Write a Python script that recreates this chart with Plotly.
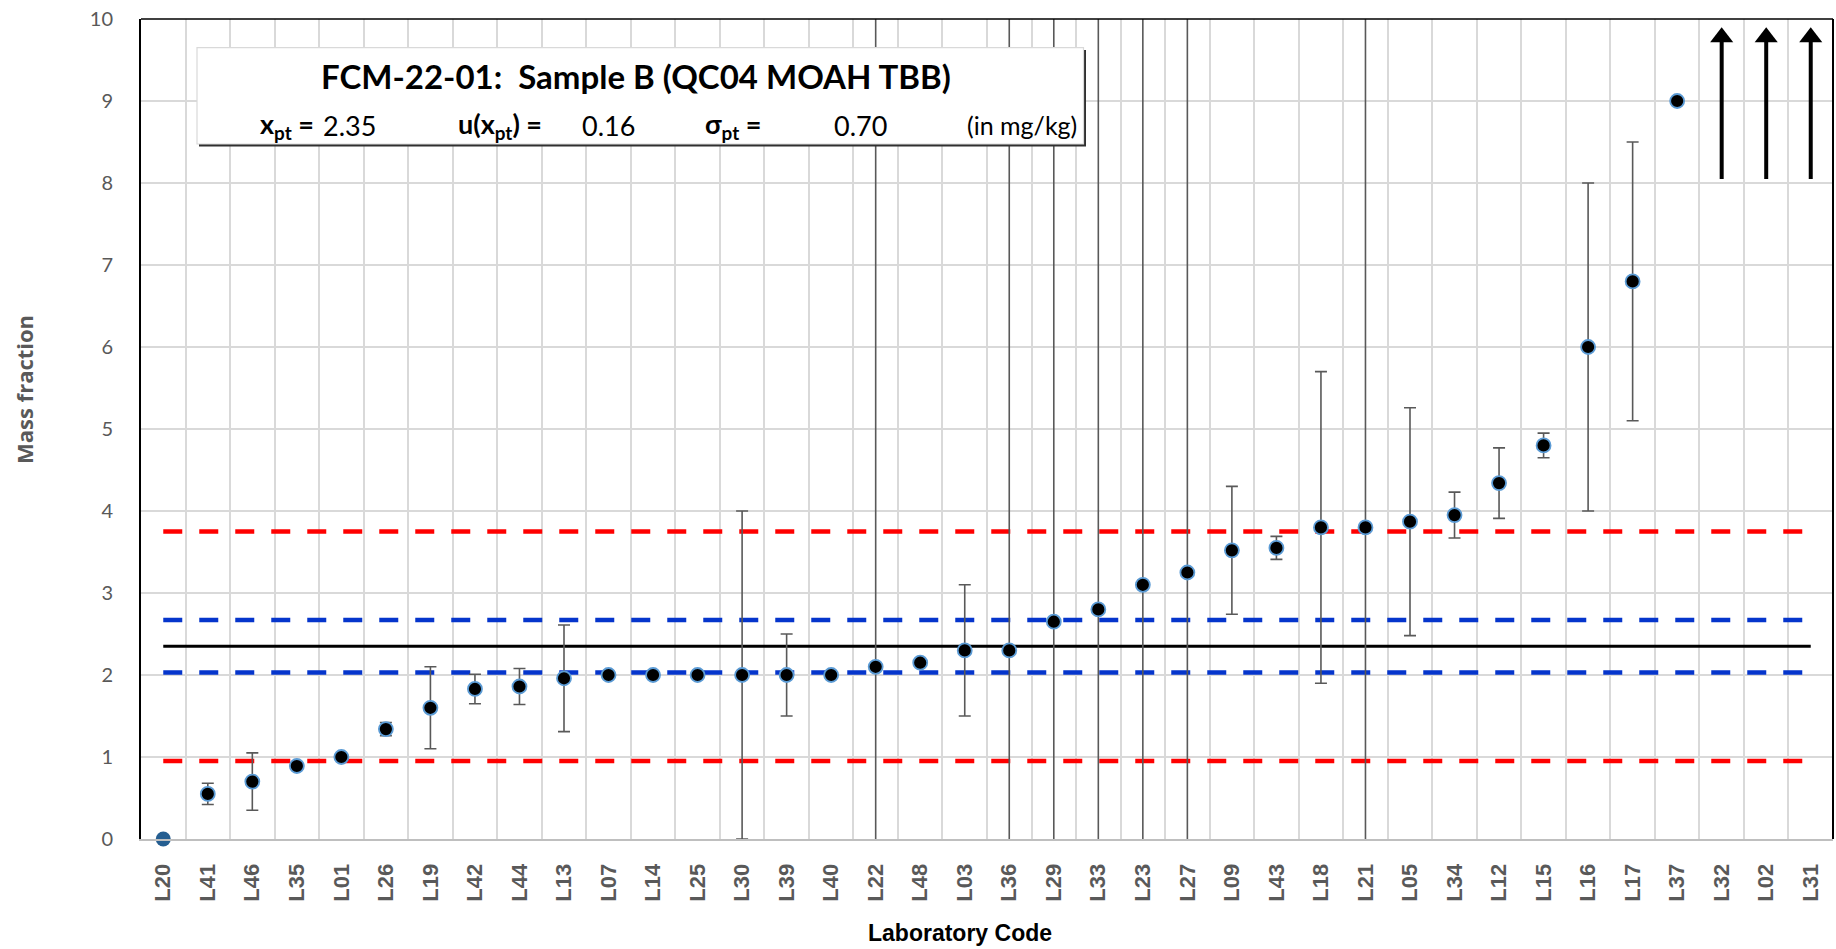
import plotly.graph_objects as go

# ---------------- data ----------------
labs = ["L20", "L41", "L46", "L35", "L01", "L26", "L19", "L42", "L44", "L13",
        "L07", "L14", "L25", "L30", "L39", "L40", "L22", "L48", "L03", "L36",
        "L29", "L33", "L23", "L27", "L09", "L43", "L18", "L21", "L05", "L34",
        "L12", "L15", "L16", "L17", "L37", "L32", "L02", "L31"]

values = [0.00, 0.55, 0.70, 0.89, 1.00, 1.34, 1.60, 1.83, 1.86, 1.96,
          2.00, 2.00, 2.00, 2.00, 2.00, 2.00, 2.10, 2.15, 2.30, 2.30,
          2.65, 2.80, 3.10, 3.25, 3.52, 3.55, 3.80, 3.80, 3.87, 3.95,
          4.34, 4.80, 6.00, 6.80, 9.00, None, None, None]

# expanded uncertainties (None = not reported); very large ones run off the chart
uncert = [None, 0.13, 0.35, None, None, 0.08, 0.50, 0.18, 0.22, 0.65,
          None, None, None, 2.00, 0.50, None, 8.0, None, 0.80, 8.0,
          8.0, 8.0, 8.0, 8.0, 0.78, 0.14, 1.90, 8.0, 1.39, 0.28,
          0.43, 0.15, 2.00, 1.70, None, None, None, None]

zero_labs = ["L20"]                    # result reported as 0 (separate series)
offscale_labs = ["L32", "L02", "L31"]  # results above the plotted range

x_pt = 2.35
u_xpt = 0.16
sigma_pt = 0.70
line_u_low, line_u_high = 2.03, 2.67      # x_pt -/+ 2u
line_s_low, line_s_high = 0.95, 3.75      # x_pt -/+ 2 sigma

title_text = "FCM-22-01:  Sample B (QC04 MOAH TBB)"

# ---------------- geometry helpers (pixel -> paper) ----------------
W, H = 1836, 949
PL, PR, PT, PB = 141, 1833, 19, 839


def fx(px):
    return (px - PL) / (PR - PL)


def fy(py):
    return (PB - py) / (PB - PT)


fig = go.Figure()

# reference lines
ends = [labs[0], labs[-1]]
for val, col, dash, w in [(line_s_high, "#FF0000", "19px,17px", 4.5),
                          (line_s_low, "#FF0000", "19px,17px", 4.5),
                          (line_u_high, "#0535CC", "19px,17px", 4.5),
                          (line_u_low, "#0535CC", "19px,17px", 4.5),
                          (x_pt, "#000000", "solid", 3)]:
    fig.add_trace(go.Scatter(x=ends, y=[val, val], mode="lines",
                             line=dict(color=col, width=w, dash=dash),
                             hoverinfo="skip", showlegend=False))

# main results
main_x, main_y, main_e = [], [], []
for lab, v, e in zip(labs, values, uncert):
    if lab in zero_labs or v is None:
        continue
    main_x.append(lab)
    main_y.append(v)
    main_e.append(e if e is not None else 0)

fig.add_trace(go.Scatter(
    x=main_x, y=main_y, mode="markers",
    marker=dict(color="black", size=14, line=dict(color="#5B9BD5", width=1.8)),
    error_y=dict(type="data", array=main_e, visible=True, color="#595959",
                 thickness=1.6, width=6),
    cliponaxis=True, showlegend=False))

# zero result
zx = [l for l in labs if l in zero_labs]
zy = [values[labs.index(l)] for l in zx]
fig.add_trace(go.Scatter(x=zx, y=zy, mode="markers",
                         marker=dict(color="#255E91", size=15),
                         cliponaxis=False, showlegend=False))

# arrows for off-scale results
ARROW_BASE, ARROW_TIP = 8.05, 9.9
HEAD_SIZE = 20
unit_px = (PB - PT) / 10.0
head_r = (HEAD_SIZE / 2) / unit_px          # tip is r above the marker centre
ax_, ay_ = [], []
for lab in offscale_labs:
    ax_ += [lab, lab, None]
    ay_ += [ARROW_BASE, ARROW_TIP - 1.4 * head_r, None]
fig.add_trace(go.Scatter(x=ax_, y=ay_, mode="lines",
                         line=dict(color="black", width=4),
                         hoverinfo="skip", showlegend=False))
fig.add_trace(go.Scatter(x=offscale_labs,
                         y=[ARROW_TIP - head_r] * len(offscale_labs),
                         mode="markers",
                         marker=dict(symbol="triangle-up", size=HEAD_SIZE,
                                     color="black", line=dict(width=0)),
                         cliponaxis=False, hoverinfo="skip", showlegend=False))

# ---------------- layout ----------------
shapes = [
    # top and right plot border
    dict(type="line", xref="paper", yref="paper", x0=0, x1=1, y0=1, y1=1,
         line=dict(color="black", width=1.5), layer="above"),
    dict(type="line", xref="paper", yref="paper", x0=1, x1=1, y0=0, y1=1,
         line=dict(color="black", width=2), layer="above"),
    # info box shadow + box
    dict(type="rect", xref="paper", yref="paper",
         x0=fx(199), x1=fx(1086), y0=fy(146.5), y1=fy(50),
         fillcolor="#303030", line=dict(width=0), layer="above"),
    dict(type="rect", xref="paper", yref="paper",
         x0=fx(197), x1=fx(1083.5), y0=fy(144), y1=fy(47.7),
         fillcolor="white", line=dict(color="#d9d9d9", width=1.2), layer="above"),
]

annotations = []
tfont = "Lato, Calibri, sans-serif"
annotations.append(dict(xref="paper", yref="paper", x=fx(636), y=fy(76),
                        text="<b>" + title_text + "</b>", showarrow=False,
                        xanchor="center", yanchor="middle",
                        font=dict(family=tfont, size=33, color="black")))
# second line: (pixel x, anchor, text, size)
line2 = [
    (316, "right", "<b>x<sub>pt</sub> =</b>", 27),
    (321, "left", f"{x_pt:.2f}", 27),
    (544, "right", "<b>u(x<sub>pt</sub>) =</b>", 27),
    (580, "left", f"{u_xpt:.2f}", 27),
    (763, "right", "<b>σ<sub>pt</sub> =</b>", 27),
    (832, "left", f"{sigma_pt:.2f}", 27),
    (1079, "right", "(in mg/kg)", 25),
]
for px, anc, txt, sz in line2:
    annotations.append(dict(xref="paper", yref="paper", x=fx(px), y=fy(125),
                            text=txt, showarrow=False, xanchor=anc,
                            yanchor="middle",
                            font=dict(family=tfont, size=sz, color="black")))

# axis titles
annotations.append(dict(xref="paper", yref="paper", x=fx(960), y=fy(933),
                        text="<b>Laboratory Code</b>", showarrow=False,
                        xanchor="center", yanchor="middle",
                        font=dict(family="Liberation Sans, Arial", size=23,
                                  color="black")))
annotations.append(dict(xref="paper", yref="paper", x=fx(24), y=fy(390),
                        text="<b>Mass fraction</b>", showarrow=False,
                        textangle=-90, xanchor="center", yanchor="middle",
                        font=dict(family="Open Sans", size=22,
                                  color="#595959")))

fig.update_layout(
    width=W, height=H,
    margin=dict(l=PL, r=W - PR, t=PT, b=H - PB),
    paper_bgcolor="white", plot_bgcolor="white",
    showlegend=False,
    shapes=shapes, annotations=annotations,
    xaxis=dict(type="category", categoryorder="array", categoryarray=labs,
               range=[-0.5, len(labs) - 0.5], tickson="boundaries",
               showgrid=True, gridcolor="#d9d9d9", gridwidth=1.5,
               ticks="", tickangle=-90, ticklabelstandoff=14,
               tickfont=dict(family="Liberation Sans, Arial", size=22,
                             color="#595959", weight="bold"),
               showline=True, linecolor="#bfbfbf", linewidth=2,
               zeroline=False, fixedrange=True),
    yaxis=dict(range=[0, 10], dtick=1, tick0=0, showgrid=True,
               gridcolor="#d9d9d9", gridwidth=1.5, zeroline=False,
               showline=True, linecolor="black", linewidth=2,
               ticks="", ticklabelstandoff=22,
               tickfont=dict(family="Lato, Calibri, sans-serif", size=20,
                             color="#595959"),
               fixedrange=True),
)

fig.write_html("out.html")
